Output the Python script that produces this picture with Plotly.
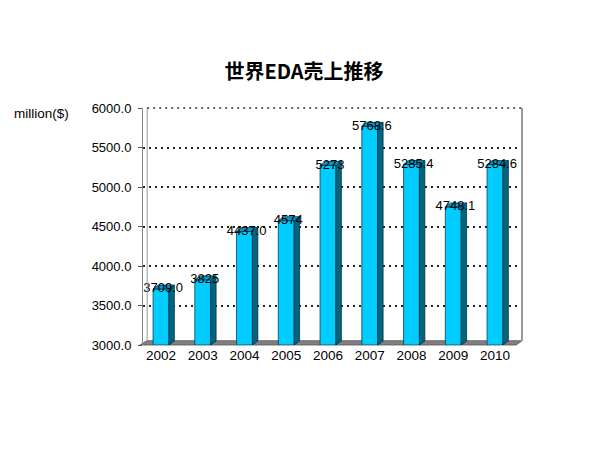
import plotly.graph_objects as go

years = ["2002", "2003", "2004", "2005", "2006", "2007", "2008", "2009", "2010"]
sales = [3709.0, 3825, 4437.0, 4574, 5273, 5768.6, 5285.4, 4748.1, 5284.6]
labels = ["3709.0", "3825", "4437.0", "4574", "5273", "5768.6", "5285.4", "4748.1", "5284.6"]
y_ticks = [3000, 3500, 4000, 4500, 5000, 5500, 6000]

xs = list(range(len(years)))
W = 0.38      # front face width (category units)
DX = 0.13     # depth offset x
DY = 50       # depth offset y (data units)
BASE = 3000

fig = go.Figure()

# front faces
fig.add_trace(go.Bar(
    x=xs, y=[v - BASE for v in sales], base=BASE, width=W,
    marker=dict(color="#00CCFF", line=dict(color="#004455", width=0.8)),
    hoverinfo="skip", showlegend=False))

# side and top faces
for x, v in zip(xs, sales):
    r = x + W / 2
    l = x - W / 2
    fig.add_trace(go.Scatter(
        x=[r, r + DX, r + DX, r, r], y=[BASE, BASE + DY, v + DY, v, BASE],
        fill="toself", fillcolor="#006680", mode="lines",
        line=dict(color="#003344", width=0.8), hoverinfo="skip", showlegend=False))
    fig.add_trace(go.Scatter(
        x=[l, r, r + DX, l + DX, l], y=[v, v, v + DY, v + DY, v],
        fill="toself", fillcolor="#0099CC", mode="lines",
        line=dict(color="#003344", width=0.8), hoverinfo="skip", showlegend=False))

# data labels
fig.add_trace(go.Scatter(
    x=[x + 0.05 for x in xs], y=sales, mode="text", text=labels,
    textposition="middle center",
    textfont=dict(family="Liberation Sans, Arial, sans-serif", size=13, color="black"),
    hoverinfo="skip", showlegend=False))

shapes = [
    # floor
    dict(type="path", xref="paper", yref="paper", layer="below",
         path="M -0.008 0 L 0.985 0 L 1 0.018 L 0.01 0.018 Z",
         fillcolor="#808080", line=dict(color="#555555", width=0.8)),
    # left wall inner edge
    dict(type="line", xref="paper", yref="paper", x0=0.011, x1=0.011, y0=0.018, y1=1,
         line=dict(color="#999999", width=1)),
    # right wall edge
    dict(type="line", xref="paper", yref="paper", x0=1, x1=1, y0=0.018, y1=1,
         line=dict(color="#999999", width=2)),
    # top border
    dict(type="line", xref="paper", yref="paper", x0=0.011, x1=1, y0=1, y1=1,
         line=dict(color="#333333", width=1.5, dash="2px,4px")),
]

fig.update_layout(
    width=592, height=442,
    margin=dict(l=135, r=78, t=100, b=105),
    paper_bgcolor="white", plot_bgcolor="white",
    title=dict(text="<b>世界EDA売上推移</b>", x=0.5, xanchor="center", y=0.855, yanchor="middle",
               font=dict(family="Noto Sans CJK JP, sans-serif", size=20, color="black")),
    shapes=shapes,
    annotations=[dict(text="million($)", xref="paper", yref="paper", x=-0.267, y=0.975,
                      xanchor="center", yanchor="middle", showarrow=False,
                      font=dict(family="Liberation Sans, Arial, sans-serif", size=13.5, color="black"))],
    xaxis=dict(range=[-0.431, 8.647], tickvals=xs, ticktext=years, showgrid=False,
               zeroline=False, showline=False, ticks="",
               tickfont=dict(family="Liberation Sans, Arial, sans-serif", size=13.5, color="black")),
    yaxis=dict(range=[3000, 6000], tickvals=y_ticks, tickformat=".1f",
               showgrid=True, gridcolor="#222222", gridwidth=1.5, griddash="2px,4px",
               zeroline=False, showline=True, linecolor="#888888", linewidth=1,
               ticks="outside", ticklen=4, tickcolor="#555555", ticklabelstandoff=4,
               tickfont=dict(family="Liberation Sans, Arial, sans-serif", size=13, color="black")),
    bargap=0.6,
)

fig.write_html("out.html")
